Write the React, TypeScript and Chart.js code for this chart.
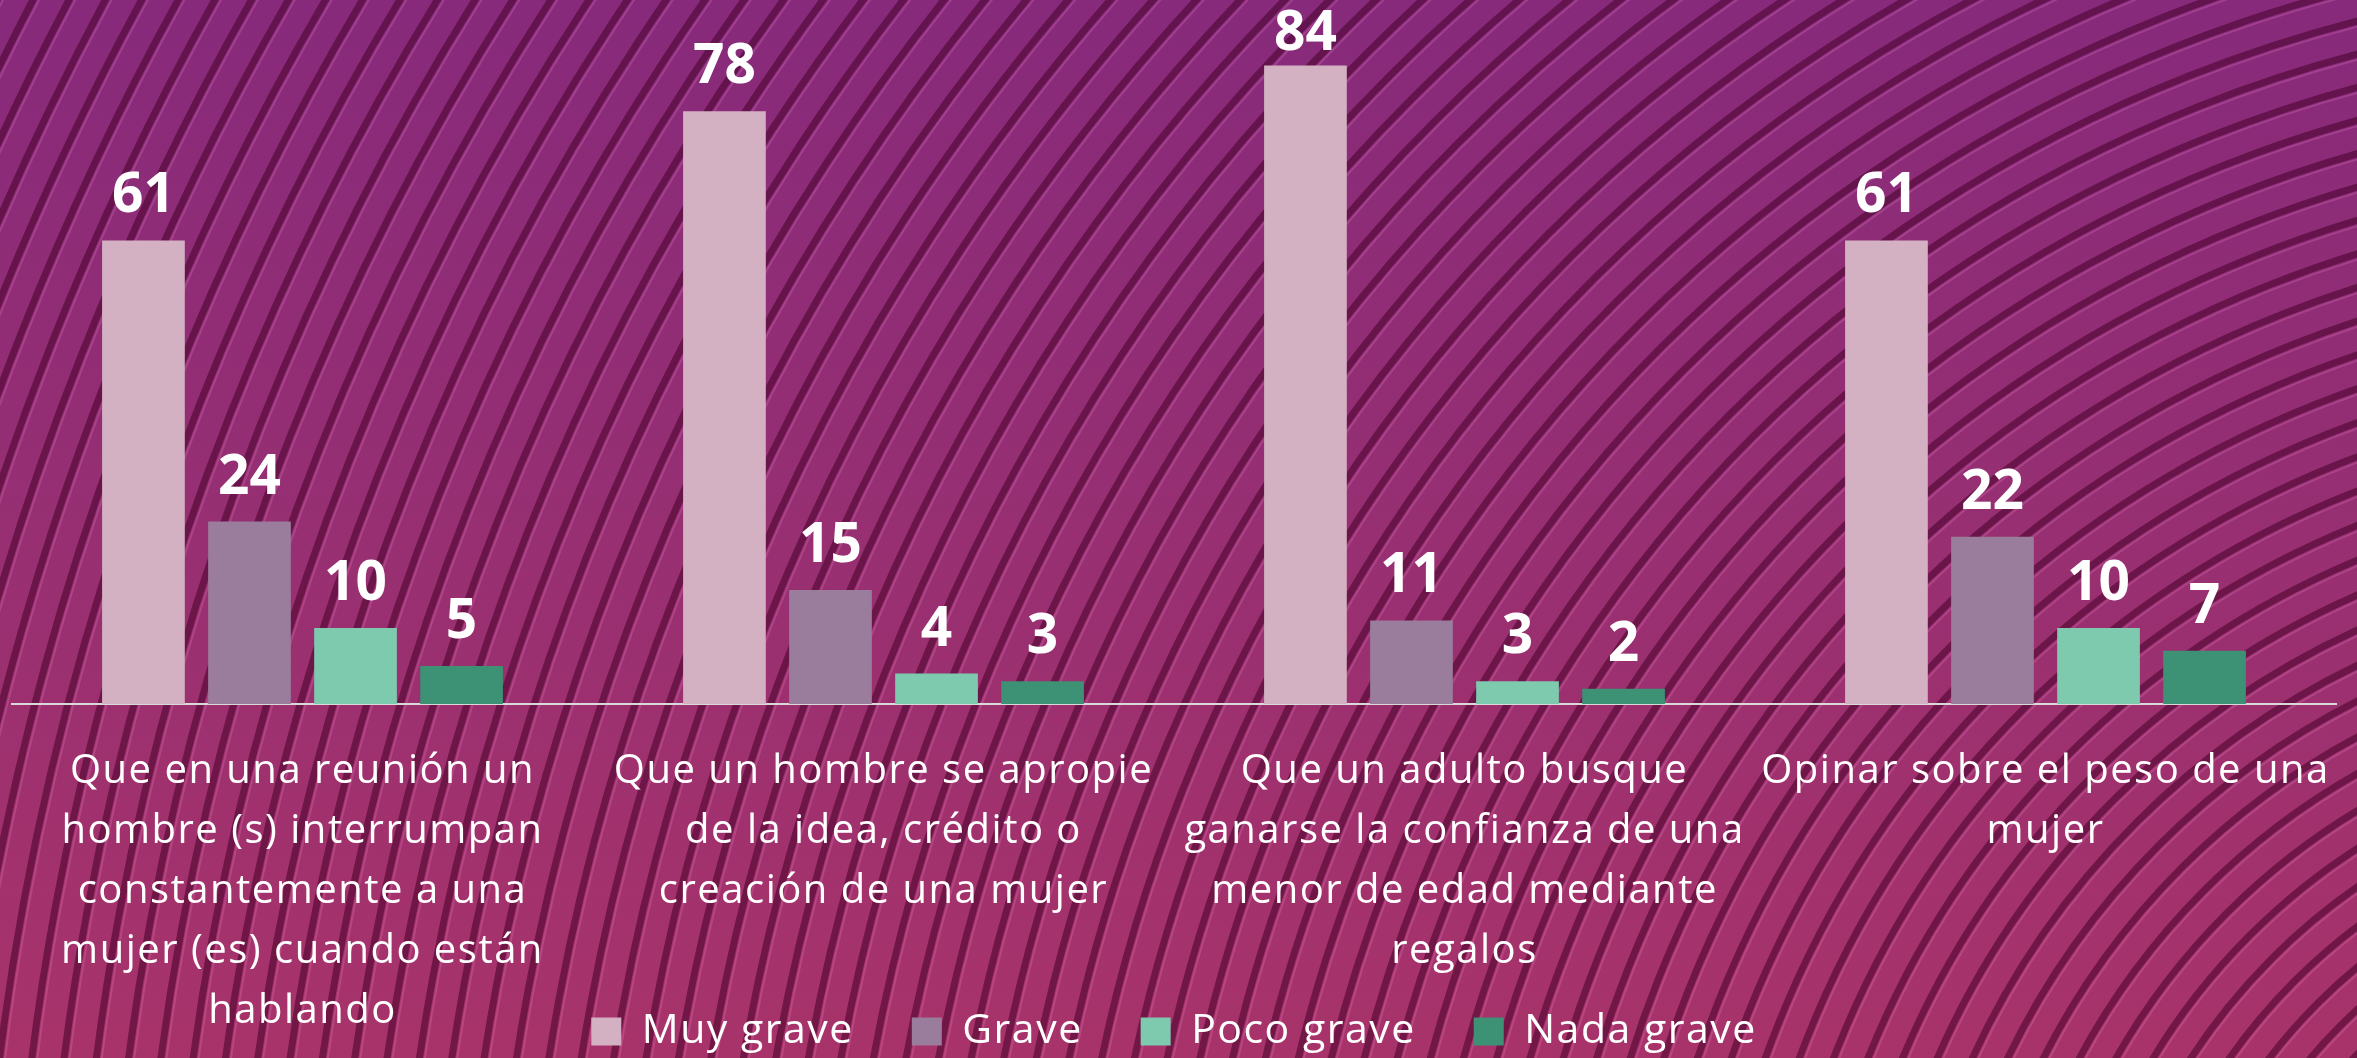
import React, { useEffect, useRef } from "react";
import { Chart, registerables } from "chart.js";

Chart.register(...registerables);

const CATEGORIES: string[][] = [
  ["Que en una reunión un", "hombre (s) interrumpan", "constantemente a una", "mujer (es) cuando están", "hablando"],
  ["Que un hombre se apropie", "de la idea, crédito o", "creación de una mujer"],
  ["Que un adulto busque", "ganarse la confianza de una", "menor de edad mediante", "regalos"],
  ["Opinar sobre el peso de una", "mujer"],
];

const SERIES_NAMES = ["Muy grave", "Grave", "Poco grave", "Nada grave"];
const MUY_GRAVE = [61, 78, 84, 61];
const GRAVE = [24, 15, 11, 22];
const POCO_GRAVE = [10, 4, 3, 10];
const NADA_GRAVE = [5, 3, 2, 7];
const SERIES_COLORS = ["#D3B1C2", "#9A7C9D", "#7ECAAF", "#3D9174"];

const FONT = "'Open Sans', 'Noto Sans', sans-serif";
const SPACING = "1.5px";

const backgroundPlugin = {
  id: "bgPattern",
  beforeLayout(chart: any) {
    (chart.ctx as any).letterSpacing = SPACING;
  },
  afterLayout(chart: any) {
    // let the multi-line category labels extend below the axis box
    chart.scales.x.bottom = chart.height;
  },
  beforeDraw(chart: any) {
    const { ctx, width, height } = chart;
    (ctx as any).letterSpacing = SPACING;
    ctx.save();
    const g = ctx.createLinearGradient(0, 0, 0, height);
    g.addColorStop(0, "#872A7B");
    g.addColorStop(0.5, "#972F72");
    g.addColorStop(1, "#A8336A");
    ctx.fillStyle = g;
    ctx.fillRect(0, 0, width, height);
    // decorative concentric waves
    const cx = width * 1.15;
    const cy = height * 1.32;
    for (let r = 300; r < 3400; r += 32) {
      ctx.beginPath();
      ctx.arc(cx, cy, r, 0, Math.PI * 2);
      ctx.strokeStyle = "rgba(70, 0, 40, 0.55)";
      ctx.lineWidth = 7;
      ctx.stroke();
      ctx.beginPath();
      ctx.arc(cx, cy, r - 5.5, 0, Math.PI * 2);
      ctx.strokeStyle = "rgba(255, 150, 220, 0.2)";
      ctx.lineWidth = 2;
      ctx.stroke();
    }
    ctx.restore();
  },
};

const valueLabelPlugin = {
  id: "valueLabels",
  afterDatasetsDraw(chart: any) {
    const { ctx } = chart;
    ctx.save();
    (ctx as any).letterSpacing = "0px";
    ctx.fillStyle = "#FFFFFF";
    ctx.font = `bold 55px ${FONT}`;
    ctx.textAlign = "center";
    ctx.textBaseline = "alphabetic";
    chart.data.datasets.forEach((ds: any, i: number) => {
      const meta = chart.getDatasetMeta(i);
      meta.data.forEach((bar: any, j: number) => {
        const y = Math.max(bar.y - 28, 50);
        ctx.fillText(String(ds.data[j]), bar.x, y);
      });
    });
    ctx.restore();
  },
};

export default function App() {
  const canvasRef = useRef<HTMLCanvasElement | null>(null);

  useEffect(() => {
    if (!canvasRef.current) return;
    const seriesData = [MUY_GRAVE, GRAVE, POCO_GRAVE, NADA_GRAVE];
    const chart = new Chart(canvasRef.current, {
      type: "bar",
      data: {
        labels: CATEGORIES,
        datasets: SERIES_NAMES.map((name, i) => ({
          label: name,
          data: seriesData[i],
          backgroundColor: SERIES_COLORS[i],
          borderWidth: 0,
          categoryPercentage: 0.73,
          barPercentage: 0.78,
        })),
      },
      options: {
        animation: false,
        responsive: true,
        maintainAspectRatio: false,
        layout: { padding: { top: 20, left: 12, right: 21, bottom: -4 } },
        plugins: {
          tooltip: { enabled: false },
          legend: {
            position: "bottom",
            labels: {
              color: "#FFFFFF",
              font: { family: FONT, size: 41, lineHeight: 1 },
              boxWidth: 30,
              boxHeight: 28,
              padding: 58,
            },
          },
        },
        scales: {
          x: {
            grid: { display: true, color: "rgba(0,0,0,0)", drawTicks: false },
            border: { display: true, color: "#D9D9D9", width: 2 },
            ticks: {
              color: "#FFFFFF",
              padding: 38,
              maxRotation: 0,
              autoSkip: false,
              font: { family: FONT, size: 40, lineHeight: 60 / 40 },
            },
            afterFit: (scale: any) => {
              scale.height = 249;
              scale.paddingLeft = 0;
              scale.paddingRight = 0;
            },
          },
          y: {
            display: false,
            min: 0,
            max: 90,
          },
        },
      },
      plugins: [backgroundPlugin, valueLabelPlugin],
    });
    return () => chart.destroy();
  }, []);

  return (
    <div style={{ position: "fixed", left: 0, top: 0, width: "2357px", height: "1058px" }}>
      <canvas ref={canvasRef} />
    </div>
  );
}
